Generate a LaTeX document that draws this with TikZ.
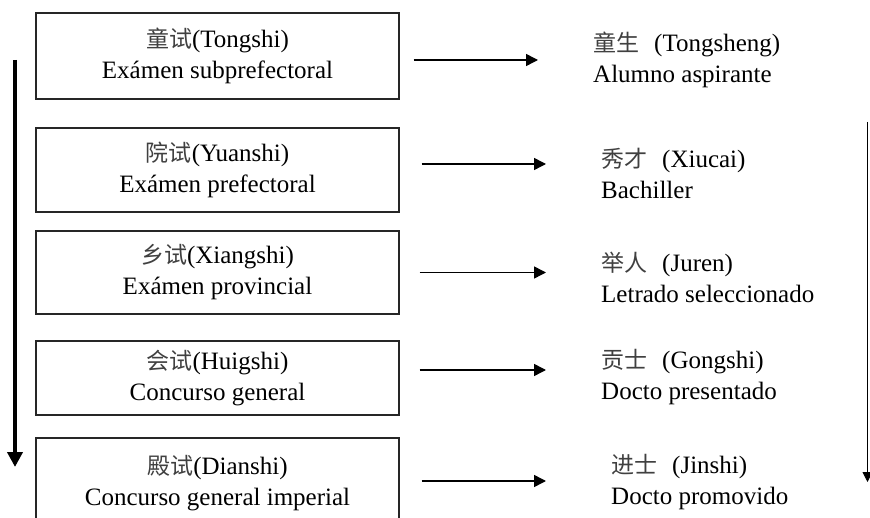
\documentclass[tikz,border=0pt]{standalone}
\usepackage{fontspec}
\setmainfont{Liberation Serif}
\newfontfamily\cjk{Noto Sans CJK SC}[Scale=0.92]
\usetikzlibrary{arrows.meta}
\newcommand{\zh}[1]{{\cjk\color{black!75}#1}}

\begin{document}
\begin{tikzpicture}[x=1pt, y=-1pt,
			every node/.style = {font=\fontsize{25}{31}\selectfont, inner sep=0pt},
			exam/.style = {shape=rectangle, draw=black!85, line width=1.2pt,
					align=center, minimum width=363pt},
			grade/.style = {anchor=west, align=left},
			pass/.style = {line width=1.5pt, -{Triangle[length=12pt,width=12pt]}}]
			\useasboundingbox[fill=white] (0,0) rectangle (870,518);
			\node[exam, minimum height=86pt] (exam1) at (217.5,56) {\zh{童试}(Tongshi)\\Exámen subprefectoral};
			\node[exam, minimum height=84pt] (exam2) at (217.5,170) {\zh{院试}(Yuanshi)\\Exámen prefectoral};
			\node[exam, minimum height=83pt] (exam3) at (217.5,272.5) {\zh{乡试}(Xiangshi)\\Exámen provincial};
			\node[exam, minimum height=74pt] (exam4) at (217.5,378) {\zh{会试}(Huigshi)\\Concurso general};
			\node[exam, minimum height=90pt] (exam5) at (217.5,483) {\zh{殿试}(Dianshi)\\Concurso general imperial};
			\node[grade] (grade1) at (593,60) {\zh{童生}\hspace{0.6em}(Tongsheng)\\Alumno aspirante};
			\node[grade] (grade2) at (601,173) {\zh{秀才}\hspace{0.6em}(Xiucai)\\Bachiller};
			\node[grade] (grade3) at (601,277) {\zh{举人}\hspace{0.6em}(Juren)\\Letrado seleccionado};
			\node[grade] (grade4) at (601,377.5) {\zh{贡士}\hspace{0.6em}(Gongshi)\\Docto presentado};
			\node[grade] (grade5) at (611,482.5) {\zh{进士}\hspace{0.6em}(Jinshi)\\Docto promovido};
			\draw[pass] ([xshift=14pt,yshift=-4pt]exam1.east) -- ([xshift=-55pt,yshift=-4pt]grade1.west |- exam1.east);
			\draw[pass] ([xshift=22pt,yshift=6pt]exam2.east) -- ([xshift=-55pt,yshift=6pt]grade2.west |- exam2.east);
			\draw[pass] ([xshift=20pt]exam3.east) -- ([xshift=-55pt]grade3.west |- exam3.east);
			\draw[pass] ([xshift=20pt,yshift=8pt]exam4.east) -- ([xshift=-55pt,yshift=8pt]grade4.west |- exam4.east);
			\draw[pass] ([xshift=22pt,yshift=2pt]exam5.east) -- ([xshift=-65pt,yshift=2pt]grade5.west |- exam5.east);
			\coordinate (order top) at (15,60);
			\coordinate (order end) at (15,467);
			\draw[line width=4.5pt, -{Triangle[length=15pt,width=15pt]}] (order top) -- (order end);
			\coordinate (rank top) at (867.5,122);
			\coordinate (rank end) at (867.5,482);
			\draw[line width=1pt, -{Triangle[length=10pt,width=10pt]}] (rank top) -- (rank end);
		\end{tikzpicture}
\end{document}
